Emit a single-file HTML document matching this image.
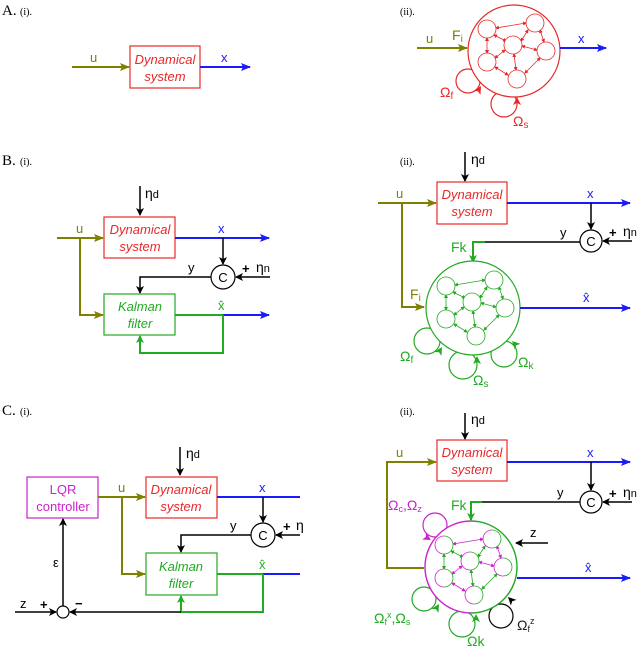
<!DOCTYPE html>
<html><head><meta charset="utf-8"><style>
body{margin:0;background:#fff}
svg{display:block;font-family:"Liberation Sans",sans-serif;font-size:13px}
.lab{font-family:"Liberation Serif",serif}
</style></head><body>
<svg width="640" height="647" viewBox="0 0 640 647" xmlns="http://www.w3.org/2000/svg">
<defs>
<marker id="ak" markerWidth="8" markerHeight="8" refX="7" refY="4" orient="auto" markerUnits="userSpaceOnUse"><path d="M0,0 L8,4 L0,8 L2,4Z" fill="#000"/></marker>
<marker id="ab" markerWidth="10" markerHeight="8" refX="9" refY="4" orient="auto" markerUnits="userSpaceOnUse"><path d="M0,0 L10,4 L0,8 L2,4Z" fill="#1a1aff"/></marker>
<marker id="ao" markerWidth="10" markerHeight="8" refX="9" refY="4" orient="auto" markerUnits="userSpaceOnUse"><path d="M0,0 L10,4 L0,8 L2,4Z" fill="#7f7f00"/></marker>
<marker id="ag" markerWidth="8" markerHeight="8" refX="7" refY="4" orient="auto" markerUnits="userSpaceOnUse"><path d="M0,0 L8,4 L0,8 L2,4Z" fill="#22aa22"/></marker>
<marker id="sr" markerWidth="4" markerHeight="4" refX="3" refY="2" orient="auto-start-reverse" markerUnits="userSpaceOnUse"><path d="M0,0 L4,2 L0,4Z" fill="#e82828"/></marker>
<marker id="sg" markerWidth="4" markerHeight="4" refX="3" refY="2" orient="auto-start-reverse" markerUnits="userSpaceOnUse"><path d="M0,0 L4,2 L0,4Z" fill="#22aa22"/></marker>
<marker id="sm" markerWidth="4" markerHeight="4" refX="3" refY="2" orient="auto-start-reverse" markerUnits="userSpaceOnUse"><path d="M0,0 L4,2 L0,4Z" fill="#cc22cc"/></marker>
<linearGradient id="mg" x1="0" y1="0" x2="1" y2="0"><stop offset="0.45" stop-color="#cc22cc"/><stop offset="0.55" stop-color="#22aa22"/></linearGradient>
<path id="tri" d="M0,0 L-8,-4 L-6,0 L-8,4Z"/>
<g id="netR" stroke="#e82828" fill="#fff" stroke-width="0.8">
<line x1="-18" y1="-23" x2="12" y2="-28" marker-start="url(#sr)" marker-end="url(#sr)"/>
<line x1="-27" y1="-13" x2="-27" y2="2" marker-start="url(#sr)" marker-end="url(#sr)"/>
<line x1="-20" y1="-16" x2="-8" y2="-10" marker-start="url(#sr)" marker-end="url(#sr)"/>
<line x1="14" y1="-21" x2="7" y2="-10" marker-start="url(#sr)" marker-end="url(#sr)"/>
<line x1="26" y1="-21" x2="30" y2="-9" marker-start="url(#sr)" marker-end="url(#sr)"/>
<line x1="8" y1="-5" x2="23" y2="-1" marker-start="url(#sr)" marker-end="url(#sr)"/>
<line x1="-9" y1="-1" x2="-19" y2="7" marker-start="url(#sr)" marker-end="url(#sr)"/>
<line x1="0" y1="3" x2="2" y2="19" marker-start="url(#sr)" marker-end="url(#sr)"/>
<line x1="-19" y1="16" x2="-6" y2="24" marker-start="url(#sr)" marker-end="url(#sr)"/>
<line x1="26" y1="7" x2="11" y2="22" marker-start="url(#sr)" marker-end="url(#sr)"/>
<circle cx="-27" cy="-22" r="9"/><circle cx="21" cy="-28" r="9"/><circle cx="-1" cy="-6" r="9"/><circle cx="32" cy="0" r="9"/><circle cx="-27" cy="11" r="9"/><circle cx="3" cy="28" r="9"/>
</g>
<g id="netG" stroke="#22aa22" fill="#fff" stroke-width="0.8">
<line x1="-18" y1="-23" x2="12" y2="-28" marker-start="url(#sg)" marker-end="url(#sg)"/>
<line x1="-27" y1="-13" x2="-27" y2="2" marker-start="url(#sg)" marker-end="url(#sg)"/>
<line x1="-20" y1="-16" x2="-8" y2="-10" marker-start="url(#sg)" marker-end="url(#sg)"/>
<line x1="14" y1="-21" x2="7" y2="-10" marker-start="url(#sg)" marker-end="url(#sg)"/>
<line x1="26" y1="-21" x2="30" y2="-9" marker-start="url(#sg)" marker-end="url(#sg)"/>
<line x1="8" y1="-5" x2="23" y2="-1" marker-start="url(#sg)" marker-end="url(#sg)"/>
<line x1="-9" y1="-1" x2="-19" y2="7" marker-start="url(#sg)" marker-end="url(#sg)"/>
<line x1="0" y1="3" x2="2" y2="19" marker-start="url(#sg)" marker-end="url(#sg)"/>
<line x1="-19" y1="16" x2="-6" y2="24" marker-start="url(#sg)" marker-end="url(#sg)"/>
<line x1="26" y1="7" x2="11" y2="22" marker-start="url(#sg)" marker-end="url(#sg)"/>
<circle cx="-27" cy="-22" r="9"/><circle cx="21" cy="-28" r="9"/><circle cx="-1" cy="-6" r="9"/><circle cx="32" cy="0" r="9"/><circle cx="-27" cy="11" r="9"/><circle cx="3" cy="28" r="9"/>
</g>
<g id="netM" fill="#fff" stroke-width="0.8">
<g stroke="#cc22cc">
<line x1="-18" y1="-23" x2="12" y2="-28" marker-start="url(#sm)" marker-end="url(#sm)"/>
<line x1="26" y1="-21" x2="30" y2="-9" marker-start="url(#sm)" marker-end="url(#sm)"/>
<line x1="8" y1="-5" x2="23" y2="-1" marker-start="url(#sm)" marker-end="url(#sm)"/>
<line x1="-9" y1="-1" x2="-19" y2="7" marker-start="url(#sm)" marker-end="url(#sm)"/>
<line x1="-19" y1="16" x2="-6" y2="24" marker-start="url(#sm)" marker-end="url(#sm)"/></g>
<g stroke="#22aa22">
<line x1="-27" y1="-13" x2="-27" y2="2" marker-start="url(#sg)" marker-end="url(#sg)"/>
<line x1="-20" y1="-16" x2="-8" y2="-10" marker-start="url(#sg)" marker-end="url(#sg)"/>
<line x1="14" y1="-21" x2="7" y2="-10" marker-start="url(#sg)" marker-end="url(#sg)"/>
<line x1="0" y1="3" x2="2" y2="19" marker-start="url(#sg)" marker-end="url(#sg)"/>
<line x1="26" y1="7" x2="11" y2="22" marker-start="url(#sg)" marker-end="url(#sg)"/></g>
<g stroke="url(#mg)"><circle cx="-27" cy="-22" r="9"/><circle cx="21" cy="-28" r="9"/><circle cx="-1" cy="-6" r="9"/><circle cx="32" cy="0" r="9"/><circle cx="-27" cy="11" r="9"/><circle cx="3" cy="28" r="9"/></g>
</g>
</defs>

<!-- A(i) -->
<text x="2" y="15" class="lab" font-size="15">A.</text><text x="20" y="15" class="lab" font-size="10">(i).</text>
<line x1="72" y1="67" x2="129" y2="67" stroke="#7f7f00" stroke-width="2" marker-end="url(#ao)"/>
<text x="90" y="62" fill="#7f7f00">u</text>
<rect x="130" y="46" width="70" height="42" fill="#fff" stroke="#e82828" stroke-width="1.2"/>
<text x="165" y="64" fill="#e82828" font-style="italic" text-anchor="middle">Dynamical</text>
<text x="165" y="81" fill="#e82828" font-style="italic" text-anchor="middle">system</text>
<line x1="200" y1="67" x2="250" y2="67" stroke="#1a1aff" stroke-width="2" marker-end="url(#ab)"/>
<text x="221" y="62" fill="#1a1aff">x</text>

<!-- A(ii) -->
<text x="400" y="15" class="lab" font-size="10">(ii).</text>
<line x1="417" y1="48" x2="467" y2="48" stroke="#7f7f00" stroke-width="2" marker-end="url(#ao)"/>
<text x="426" y="43" fill="#7f7f00">u</text>
<text x="452" y="40" fill="#7f7f00" font-size="14">F<tspan font-size="10" dy="2">i</tspan></text>
<g fill="none" stroke="#e82828" stroke-width="1.2"><circle cx="468" cy="81" r="12"/><circle cx="504" cy="104" r="13"/></g>
<circle cx="514" cy="51" r="46" fill="#fff" stroke="#e82828" stroke-width="1.2"/>
<use href="#netR" x="514" y="51"/>
<use href="#tri" fill="#e82828" transform="translate(481,86) rotate(-60)"/>
<use href="#tri" fill="#e82828" transform="translate(517,97) rotate(-90)"/>
<line x1="560" y1="48" x2="606" y2="48" stroke="#1a1aff" stroke-width="2" marker-end="url(#ab)"/>
<text x="578" y="43" fill="#1a1aff">x</text>
<text x="440" y="97" fill="#e82828" font-size="14">Ω<tspan font-size="10" dy="2">f</tspan></text>
<text x="513" y="126" fill="#e82828" font-size="14">Ω<tspan font-size="10" dy="2">s</tspan></text>

<!-- B(i) -->
<text x="2" y="165" class="lab" font-size="15">B.</text><text x="20" y="165" class="lab" font-size="10">(i).</text>
<line x1="140" y1="186" x2="140" y2="215" stroke="#000" stroke-width="1.5" marker-end="url(#ak)"/>
<text x="145" y="198" font-size="14">η<tspan font-size="11">d</tspan></text>
<rect x="104" y="217" width="71" height="41" fill="#fff" stroke="#e82828" stroke-width="1.2"/>
<text x="140" y="234" fill="#e82828" font-style="italic" text-anchor="middle">Dynamical</text>
<text x="140" y="251" fill="#e82828" font-style="italic" text-anchor="middle">system</text>
<line x1="57" y1="238" x2="103" y2="238" stroke="#7f7f00" stroke-width="2" marker-end="url(#ao)"/>
<text x="76" y="233" fill="#7f7f00">u</text>
<polyline points="80,238 80,315 103,315" fill="none" stroke="#7f7f00" stroke-width="2" marker-end="url(#ao)"/>
<line x1="175" y1="238" x2="269" y2="238" stroke="#1a1aff" stroke-width="2" marker-end="url(#ab)"/>
<text x="218" y="233" fill="#1a1aff">x</text>
<line x1="223" y1="238" x2="223" y2="264" stroke="#000" stroke-width="1.5" marker-end="url(#ak)"/>
<circle cx="223" cy="277" r="12" fill="#fff" stroke="#000" stroke-width="1.2"/>
<text x="223" y="282" text-anchor="middle">C</text>
<line x1="270" y1="277" x2="236" y2="277" stroke="#000" stroke-width="1.5" marker-end="url(#ak)"/>
<text x="242" y="273" font-weight="bold">+</text><text x="256" y="272" font-size="14">η<tspan font-size="11">n</tspan></text>
<polyline points="211,277 140,277 140,293" fill="none" stroke="#000" stroke-width="1.5" marker-end="url(#ak)"/>
<text x="188" y="272">y</text>
<rect x="104" y="294" width="71" height="41" fill="#fff" stroke="#22aa22" stroke-width="1.2"/>
<text x="140" y="311" fill="#22aa22" font-style="italic" text-anchor="middle">Kalman</text>
<text x="140" y="328" fill="#22aa22" font-style="italic" text-anchor="middle">filter</text>
<line x1="175" y1="315" x2="223" y2="315" stroke="#22aa22" stroke-width="2"/>
<line x1="223" y1="315" x2="269" y2="315" stroke="#1a1aff" stroke-width="2" marker-end="url(#ab)"/>
<text x="218" y="310" fill="#22aa22">x̂</text>
<polyline points="223,315 223,353 140,353 140,336" fill="none" stroke="#22aa22" stroke-width="2" marker-end="url(#ag)"/>

<!-- B(ii) -->
<text x="400" y="165" class="lab" font-size="10">(ii).</text>
<line x1="465" y1="152" x2="465" y2="181" stroke="#000" stroke-width="1.5" marker-end="url(#ak)"/>
<text x="471" y="164" font-size="14">η<tspan font-size="11">d</tspan></text>
<rect x="437" y="182" width="70" height="42" fill="#fff" stroke="#e82828" stroke-width="1.2"/>
<text x="472" y="199" fill="#e82828" font-style="italic" text-anchor="middle">Dynamical</text>
<text x="472" y="216" fill="#e82828" font-style="italic" text-anchor="middle">system</text>
<line x1="378" y1="203" x2="436" y2="203" stroke="#7f7f00" stroke-width="2" marker-end="url(#ao)"/>
<text x="396" y="198" fill="#7f7f00">u</text>
<polyline points="402,203 402,307 424,307" fill="none" stroke="#7f7f00" stroke-width="2" marker-end="url(#ao)"/>
<text x="410" y="299" fill="#7f7f00" font-size="14">F<tspan font-size="10" dy="2">i</tspan></text>
<line x1="507" y1="203" x2="630" y2="203" stroke="#1a1aff" stroke-width="2" marker-end="url(#ab)"/>
<text x="587" y="198" fill="#1a1aff">x</text>
<line x1="591" y1="203" x2="591" y2="229" stroke="#000" stroke-width="1.5" marker-end="url(#ak)"/>
<circle cx="591" cy="241" r="11" fill="#fff" stroke="#000" stroke-width="1.2"/>
<text x="591" y="246" text-anchor="middle">C</text>
<line x1="632" y1="241" x2="603" y2="241" stroke="#000" stroke-width="1.5" marker-end="url(#ak)"/>
<text x="609" y="237" font-weight="bold">+</text><text x="623" y="236" font-size="14">η<tspan font-size="11">n</tspan></text>
<line x1="580" y1="242" x2="485" y2="242" stroke="#000" stroke-width="1.5"/>
<text x="560" y="237">y</text>
<polyline points="485,242 473,242 473,262" fill="none" stroke="#22aa22" stroke-width="2" marker-end="url(#ag)"/>
<text x="451" y="252" fill="#22aa22" font-size="14">Fk</text>
<g fill="none" stroke="#22aa22" stroke-width="1.2"><circle cx="427" cy="341" r="13"/><circle cx="463" cy="365" r="14"/><circle cx="504" cy="354" r="13"/></g>
<circle cx="473" cy="308" r="47" fill="#fff" stroke="#22aa22" stroke-width="1.2"/>
<use href="#netG" x="473" y="308"/>
<use href="#tri" fill="#22aa22" transform="translate(442,347) rotate(-60)"/>
<use href="#tri" fill="#22aa22" transform="translate(477,356) rotate(-90)"/>
<use href="#tri" fill="#22aa22" transform="translate(512,341) rotate(-135)"/>
<line x1="520" y1="308" x2="630" y2="308" stroke="#1a1aff" stroke-width="2" marker-end="url(#ab)"/>
<text x="583" y="302" fill="#1a1aff">x̂</text>
<text x="400" y="361" fill="#22aa22" font-size="14">Ω<tspan font-size="10" dy="2">f</tspan></text>
<text x="473" y="385" fill="#22aa22" font-size="14">Ω<tspan font-size="10" dy="2">s</tspan></text>
<text x="518" y="367" fill="#22aa22" font-size="14">Ω<tspan font-size="10" dy="2">k</tspan></text>

<!-- C(i) -->
<text x="2" y="415" class="lab" font-size="15">C.</text><text x="20" y="415" class="lab" font-size="10">(i).</text>
<line x1="180" y1="447" x2="180" y2="475" stroke="#000" stroke-width="1.5" marker-end="url(#ak)"/>
<text x="186" y="458" font-size="14">η<tspan font-size="11">d</tspan></text>
<rect x="27" y="477" width="71" height="41" fill="#fff" stroke="#cc22cc" stroke-width="1.2"/>
<text x="63" y="494" fill="#cc22cc" text-anchor="middle">LQR</text>
<text x="63" y="511" fill="#cc22cc" text-anchor="middle">controller</text>
<rect x="146" y="477" width="71" height="41" fill="#fff" stroke="#e82828" stroke-width="1.2"/>
<text x="181" y="494" fill="#e82828" font-style="italic" text-anchor="middle">Dynamical</text>
<text x="181" y="511" fill="#e82828" font-style="italic" text-anchor="middle">system</text>
<line x1="98" y1="497" x2="145" y2="497" stroke="#7f7f00" stroke-width="2" marker-end="url(#ao)"/>
<text x="118" y="492" fill="#7f7f00">u</text>
<polyline points="122,497 122,574 145,574" fill="none" stroke="#7f7f00" stroke-width="2" marker-end="url(#ao)"/>
<line x1="217" y1="497" x2="300" y2="497" stroke="#1a1aff" stroke-width="2"/>
<text x="259" y="492" fill="#1a1aff">x</text>
<line x1="263" y1="497" x2="263" y2="522" stroke="#000" stroke-width="1.5" marker-end="url(#ak)"/>
<circle cx="263" cy="535" r="12" fill="#fff" stroke="#000" stroke-width="1.2"/>
<text x="263" y="540" text-anchor="middle">C</text>
<line x1="300" y1="535" x2="276" y2="535" stroke="#000" stroke-width="1.5" marker-end="url(#ak)"/>
<text x="283" y="531" font-weight="bold">+</text><text x="296" y="530" font-size="14">η</text>
<polyline points="251,535 181,535 181,552" fill="none" stroke="#000" stroke-width="1.5" marker-end="url(#ak)"/>
<text x="230" y="530">y</text>
<rect x="146" y="553" width="71" height="42" fill="#fff" stroke="#22aa22" stroke-width="1.2"/>
<text x="181" y="571" fill="#22aa22" font-style="italic" text-anchor="middle">Kalman</text>
<text x="181" y="588" fill="#22aa22" font-style="italic" text-anchor="middle">filter</text>
<line x1="217" y1="574" x2="263" y2="574" stroke="#22aa22" stroke-width="2"/>
<line x1="263" y1="574" x2="300" y2="574" stroke="#1a1aff" stroke-width="2"/>
<text x="259" y="569" fill="#22aa22">x̂</text>
<polyline points="263,574 263,612 181,612 181,596" fill="none" stroke="#22aa22" stroke-width="2" marker-end="url(#ag)"/>
<line x1="181" y1="612" x2="70" y2="612" stroke="#000" stroke-width="1.5" marker-end="url(#ak)"/>
<line x1="15" y1="612" x2="56" y2="612" stroke="#000" stroke-width="1.5" marker-end="url(#ak)"/>
<circle cx="63" cy="612" r="6" fill="#fff" stroke="#000" stroke-width="1.2"/>
<text x="20" y="608">z</text><text x="40" y="609" font-weight="bold">+</text><text x="75" y="608" font-weight="bold">−</text>
<line x1="63" y1="606" x2="63" y2="519" stroke="#000" stroke-width="1.5" marker-end="url(#ak)"/>
<text x="53" y="567">ε</text>

<!-- C(ii) -->
<text x="400" y="415" class="lab" font-size="10">(ii).</text>
<line x1="465" y1="413" x2="465" y2="439" stroke="#000" stroke-width="1.5" marker-end="url(#ak)"/>
<text x="471" y="424" font-size="14">η<tspan font-size="11">d</tspan></text>
<rect x="437" y="440" width="70" height="41" fill="#fff" stroke="#e82828" stroke-width="1.2"/>
<text x="472" y="457" fill="#e82828" font-style="italic" text-anchor="middle">Dynamical</text>
<text x="472" y="474" fill="#e82828" font-style="italic" text-anchor="middle">system</text>
<polyline points="424,568 387,568 387,462 436,462" fill="none" stroke="#7f7f00" stroke-width="2" marker-end="url(#ao)"/>
<text x="396" y="457" fill="#7f7f00">u</text>
<line x1="507" y1="462" x2="630" y2="462" stroke="#1a1aff" stroke-width="2" marker-end="url(#ab)"/>
<text x="587" y="457" fill="#1a1aff">x</text>
<line x1="591" y1="462" x2="591" y2="490" stroke="#000" stroke-width="1.5" marker-end="url(#ak)"/>
<circle cx="591" cy="502" r="11" fill="#fff" stroke="#000" stroke-width="1.2"/>
<text x="591" y="507" text-anchor="middle">C</text>
<line x1="632" y1="502" x2="603" y2="502" stroke="#000" stroke-width="1.5" marker-end="url(#ak)"/>
<text x="609" y="498" font-weight="bold">+</text><text x="623" y="497" font-size="14">η<tspan font-size="11">n</tspan></text>
<line x1="580" y1="502" x2="482" y2="502" stroke="#000" stroke-width="1.5"/>
<text x="557" y="497">y</text>
<polyline points="482,502 471,502 471,520" fill="none" stroke="#22aa22" stroke-width="2" marker-end="url(#ag)"/>
<text x="451" y="510" fill="#22aa22" font-size="14">Fk</text>
<circle cx="435" cy="525" r="12" fill="none" stroke="#cc22cc" stroke-width="1.2"/>
<g fill="none" stroke="#22aa22" stroke-width="1.2"><circle cx="424" cy="599" r="12"/><circle cx="462" cy="624" r="13"/></g>
<circle cx="501" cy="616" r="12" fill="none" stroke="#000" stroke-width="1.2"/>
<circle cx="471" cy="567" r="46" fill="#fff" stroke="url(#mg)" stroke-width="1.4"/>
<use href="#netM" x="471" y="567"/>
<use href="#tri" fill="#cc22cc" transform="translate(431,540) rotate(30)"/>
<use href="#tri" fill="#22aa22" transform="translate(439,604) rotate(-60)"/>
<use href="#tri" fill="#22aa22" transform="translate(476,614) rotate(-90)"/>
<use href="#tri" fill="#000" transform="translate(508,597) rotate(-135)"/>
<line x1="548" y1="543" x2="516" y2="543" stroke="#000" stroke-width="1.5" marker-end="url(#ak)"/>
<text x="530" y="537">z</text>
<line x1="517" y1="578" x2="630" y2="578" stroke="#1a1aff" stroke-width="2" marker-end="url(#ab)"/>
<text x="585" y="572" fill="#1a1aff">x̂</text>
<text x="388" y="510" fill="#cc22cc" font-size="14">Ω<tspan font-size="9" dy="2">c</tspan><tspan dy="-2">,Ω</tspan><tspan font-size="9" dy="2">z</tspan></text>
<text x="374" y="623" fill="#22aa22" font-size="14">Ω<tspan font-size="9" dy="2">f</tspan><tspan font-size="9" dy="-7">x</tspan><tspan dy="5">,Ω</tspan><tspan font-size="9" dy="2">s</tspan></text>
<text x="467" y="646" fill="#22aa22" font-size="14">Ωk</text>
<text x="517" y="630" fill="#222" font-size="14">Ω<tspan font-size="9" dy="2">f</tspan><tspan font-size="9" dy="-8">z</tspan></text>
</svg>
</body></html>
